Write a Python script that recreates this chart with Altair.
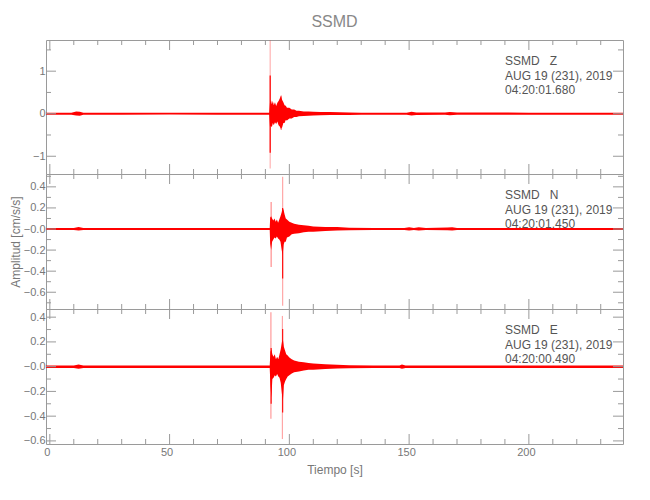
import altair as alt
import pandas as pd

# ---------------- data ----------------
X_DOMAIN = [-1.6, 239.3]

# Z component envelope (time s, upper, lower) in cm/s/s
z_t = [-1.6, 9, 11, 12.5, 14, 30, 50, 70, 91.6, 91.9, 92.3, 92.7, 93.1, 93.5, 94.0, 94.5, 95.0,
       95.5, 96.0, 96.5, 97.0, 97.5, 98.0, 98.5, 99.0, 100, 101, 102, 103, 104, 106, 108, 110,
       113, 117, 121, 125, 130, 149, 151, 153, 165, 167, 170, 200, 239.3]
z_hi = [.025, .025, .05, .045, .025, .02, .025, .025, .025, .25, .33, .22, .30, .20, .27, .18, .26,
        .30, .36, .42, .32, .27, .20, .19, .14, .14, .10, .10, .07, .07, .055, .05, .045,
        .04, .04, .035, .03, .025, .025, .045, .03, .03, .04, .03, .025, .025]
z_lo = [-.025, -.025, -.04, -.05, -.025, -.025, -.02, -.025, -.025, -.30, -.28, -.32, -.22, -.27, -.20, -.24, -.18,
        -.27, -.30, -.36, -.32, -.22, -.22, -.15, -.16, -.11, -.11, -.08, -.08, -.06, -.055, -.045, -.04,
        -.035, -.03, -.03, -.03, -.025, -.025, -.04, -.03, -.025, -.035, -.025, -.025, -.025]
z_spk_t = [92.0, 92.0, 96.6]
z_spk_hi = [1.72, 0.90, 0.43]
z_spk_lo = [-1.29, -0.92, -0.38]
z_spk_op = [0.3, 1.0, 0.5]

# N component envelope
n_t = [-1.6, 10, 12, 14, 91.8, 92.0, 92.4, 92.8, 93.3, 93.8, 94.3, 94.8, 95.3, 95.8, 96.3, 96.8,
       97.2, 97.6, 98.0, 98.5, 99, 100, 101, 102, 104, 106, 108, 110, 115, 120, 125, 135, 148,
       150, 152, 154, 157, 166, 168, 170, 239.3]
n_hi = [.01, .01, .018, .01, .01, .11, .12, .10, .08, .10, .07, .09, .06, .09, .12, .16,
        .20, .18, .14, .10, .09, .07, .06, .05, .04, .035, .03, .025, .02, .018, .012, .01, .01,
        .016, .01, .016, .01, .014, .016, .01, .01]
n_lo = [-.01, -.01, -.015, -.01, -.01, -.14, -.20, -.12, -.10, -.08, -.09, -.07, -.09, -.10, -.12, -.20,
        -.25, -.15, -.12, -.12, -.08, -.07, -.05, -.045, -.04, -.03, -.025, -.025, -.02, -.015, -.012, -.01, -.01,
        -.014, -.01, -.014, -.01, -.012, -.014, -.01, -.01]
n_spk_t = [92.4, 97.2, 97.2]
n_spk_hi = [0.257, 0.495, 0.20]
n_spk_lo = [-0.36, -0.727, -0.47]
n_spk_op = [0.45, 0.35, 0.9]

# E component envelope
e_t = [-1.6, 10, 12, 14, 91.8, 92.1, 92.5, 92.9, 93.4, 93.9, 94.4, 94.9, 95.4, 95.9, 96.4, 96.9,
       97.3, 97.7, 98.2, 98.7, 99.3, 100, 101, 102, 104, 106, 108, 110, 115, 120, 125, 135, 146,
       147, 148.5, 239.3]
e_hi = [.01, .01, .018, .01, .01, .12, .14, .10, .08, .10, .06, .08, .06, .10, .14, .20,
        .22, .16, .13, .10, .09, .075, .06, .05, .04, .035, .03, .025, .02, .016, .012, .01, .01,
        .018, .01, .01]
e_lo = [-.01, -.01, -.016, -.01, -.01, -.15, -.25, -.10, -.09, -.07, -.08, -.06, -.08, -.09, -.13, -.22,
        -.28, -.15, -.12, -.10, -.08, -.07, -.055, -.045, -.04, -.03, -.025, -.025, -.018, -.014, -.012, -.01, -.01,
        -.016, -.01, -.01]
e_spk_t = [92.3, 92.4, 97.1, 97.2]
e_spk_hi = [0.44, 0.15, 0.41, 0.305]
e_spk_lo = [-0.42, -0.30, -0.585, -0.37]
e_spk_op = [0.4, 0.9, 0.35, 0.9]

# axis ticks
x_major = [0, 50, 100, 150, 200]
x_minor = [10, 20, 30, 40, 60, 70, 80, 90, 110, 120, 130, 140, 160, 170, 180, 190, 210, 220, 230]
z_major = [-1, 0, 1]
z_minor = [-0.5, 0.5, 1.5]
ne_major = [-0.6, -0.4, -0.2, 0.0, 0.2, 0.4]
n_minor = [-0.7, -0.5, -0.3, -0.1, 0.1, 0.3, 0.5]
e_minor = [-0.5, -0.3, -0.1, 0.1, 0.3]

z_domain = [-1.417, 1.733]
n_domain = [-0.759, 0.522]
e_domain = [-0.625, 0.466]

z_info = "SSMD\u00a0\u00a0\u00a0Z\nAUG 19 (231), 2019\n04:20:01.680"
n_info = "SSMD\u00a0\u00a0\u00a0N\nAUG 19 (231), 2019\n04:20:01.450"
e_info = "SSMD\u00a0\u00a0\u00a0E\nAUG 19 (231), 2019\n04:20:00.490"

# ---------------- styling ----------------
FONT = "Liberation Sans"
RED = "#ff0000"
AX_C = "#9a9a9a"
LAB_C = "#777777"
TXT_C = "#555555"
W = 577
MAJ, MIN = 10, 5


def panel(t, hi, lo, st, shi, slo, sop, ydom, ymaj, ymin, label_expr, info, h,
          bottom=False, ytitle=None, title=None):
    xs = alt.Scale(domain=X_DOMAIN, nice=False, zero=False)
    ys = alt.Scale(domain=ydom, nice=False, zero=False)
    env = pd.DataFrame({"t": t, "hi": hi, "lo": lo})
    spk = pd.DataFrame({"t": st, "hi": shi, "lo": slo, "op": sop})

    ykw = dict(values=ymaj, labelExpr=label_expr, ticks=False, domain=False, grid=False,
               labelColor=LAB_C, labelFont=FONT, labelFontSize=11, labelPadding=1)
    if ytitle:
        ykw.update(title=ytitle, titleFont=FONT, titleFontSize=12, titleFontWeight="normal",
                   titleColor=LAB_C, titlePadding=1)
    else:
        ykw["title"] = None
    yaxis = alt.Axis(**ykw)
    if bottom:
        xaxis = alt.Axis(values=x_major, format="d", ticks=False, domain=False, grid=False,
                         labelColor=LAB_C, labelFont=FONT, labelFontSize=11, labelPadding=2,
                         labelOffset=-3, title="Tiempo [s]", titleFont=FONT, titleFontSize=12,
                         titleFontWeight="normal", titleColor=LAB_C, titlePadding=7)
    else:
        xaxis = None

    body = alt.Chart(env).mark_area(color=RED, clip=True, interpolate="linear").encode(
        x=alt.X("t:Q", scale=xs, axis=xaxis),
        y=alt.Y("lo:Q", scale=ys, axis=yaxis),
        y2="hi:Q",
    )
    spikes = alt.Chart(spk).mark_rule(color=RED, strokeWidth=1.2, clip=True).encode(
        x=alt.X("t:Q", scale=xs, axis=xaxis),
        y=alt.Y("lo:Q", scale=ys, axis=yaxis),
        y2="hi:Q",
        opacity=alt.Opacity("op:Q", scale=None, legend=None),
    )

    def xt(vals, y0, y1):
        return alt.Chart(pd.DataFrame({"t": vals})).mark_rule(color=AX_C, strokeWidth=1).encode(
            x=alt.X("t:Q", scale=xs, axis=xaxis), y=alt.value(y0), y2=alt.value(y1))

    def yt(vals, x0, x1):
        return alt.Chart(pd.DataFrame({"lo": vals})).mark_rule(color=AX_C, strokeWidth=1).encode(
            y=alt.Y("lo:Q", scale=ys, axis=yaxis), x=alt.value(x0), x2=alt.value(x1))

    ticks = [
        xt(x_major, 0, MAJ), xt(x_minor, 0, MIN),
        xt(x_major, h, h - MAJ), xt(x_minor, h, h - MIN),
        yt(ymaj, 0, MAJ), yt(ymin, 0, MIN),
        yt(ymaj, W, W - MAJ), yt(ymin, W, W - MIN),
    ]
    txt = alt.Chart(pd.DataFrame({"s": [info]})).mark_text(
        align="left", baseline="alphabetic", lineBreak="\n", lineHeight=14.5,
        font=FONT, fontSize=12, color=TXT_C,
    ).encode(x=alt.value(459), y=alt.value(25), text="s:N")

    props = dict(width=W, height=h)
    if title:
        props["title"] = alt.TitleParams(title, font=FONT, fontSize=16, fontWeight="normal",
                                         color="#888888", anchor="middle", frame="group", offset=10)
    return alt.layer(body, spikes, *ticks, txt).properties(**props)


p1 = panel(z_t, z_hi, z_lo, z_spk_t, z_spk_hi, z_spk_lo, z_spk_op, z_domain, z_major, z_minor,
           "format(datum.value, 'd')", z_info, 134, title="SSMD")
ne_expr = "datum.value == 0 ? '\u22120.0' : format(datum.value, '.1f')"
p2 = panel(n_t, n_hi, n_lo, n_spk_t, n_spk_hi, n_spk_lo, n_spk_op, n_domain, ne_major, n_minor,
           ne_expr, n_info, 135, ytitle="Amplitud [cm/s/s]")
p3 = panel(e_t, e_hi, e_lo, e_spk_t, e_spk_hi, e_spk_lo, e_spk_op, e_domain, ne_major, e_minor,
           ne_expr, e_info, 135, bottom=True)

chart = alt.vconcat(p1, p2, p3, spacing=0, bounds="flush").configure_view(
    stroke=AX_C, strokeWidth=1
).properties(padding={"left": 0, "top": 5, "right": 5, "bottom": 5})

chart.save("out.html", embed_options={"renderer": "svg", "actions": False})
